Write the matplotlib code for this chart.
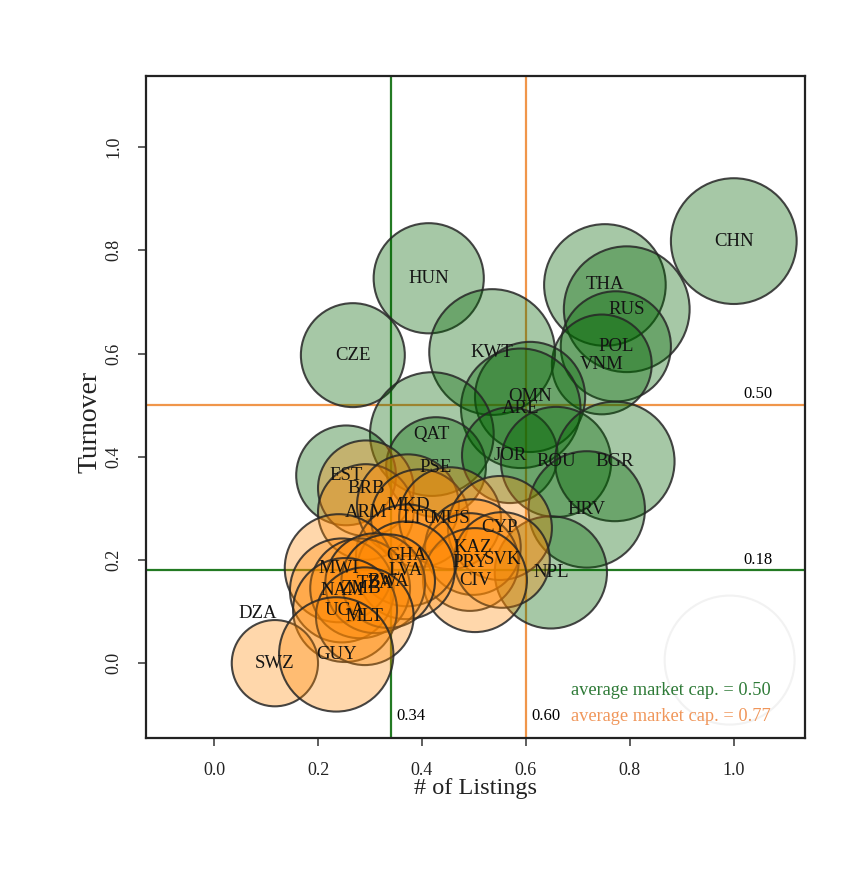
import matplotlib
matplotlib.use("Agg")
import matplotlib.pyplot as plt
from matplotlib.patches import Circle
import numpy as np

plt.rcParams['font.family'] = ['Liberation Serif', 'DejaVu Serif']

# Group 1 (green): listings, turnover, bubble radius (market cap, x-axis units)
g_codes = ["CHN", "HUN", "THA", "RUS", "POL", "VNM", "CZE", "KWT", "OMN",
           "ARE", "QAT", "PSE", "JOR", "ROU", "BGR", "HRV", "NPL", "EST"]
g_listings = [1.000, 0.413, 0.752, 0.794, 0.773, 0.746, 0.267, 0.535, 0.608,
              0.590, 0.419, 0.427, 0.569, 0.658, 0.771, 0.717, 0.648, 0.254]
g_turnover = [0.818, 0.746, 0.733, 0.686, 0.614, 0.579, 0.597, 0.603, 0.516,
              0.494, 0.444, 0.380, 0.403, 0.390, 0.391, 0.298, 0.176, 0.364]
g_mcap = [0.121, 0.106, 0.117, 0.121, 0.106, 0.096, 0.100, 0.121, 0.106,
          0.115, 0.119, 0.096, 0.092, 0.106, 0.115, 0.112, 0.108, 0.096]

# Group 2 (orange)
o_codes = ["BRB", "ARM", "MKD", "LTU", "MUS", "CYP", "KAZ", "PRY", "SVK",
           "CIV", "GHA", "LVA", "MWI", "NAM", "ZMB", "TZA", "BWA", "UGA",
           "MLT", "DZA", "SWZ", "GUY"]
o_listings = [0.292, 0.292, 0.373, 0.396, 0.454, 0.550, 0.498, 0.492, 0.554,
              0.502, 0.371, 0.369, 0.240, 0.246, 0.281, 0.310, 0.335, 0.252,
              0.290, 0.083, 0.117, 0.235]
o_turnover = [0.339, 0.293, 0.306, 0.281, 0.281, 0.262, 0.225, 0.196, 0.200,
              0.161, 0.209, 0.180, 0.184, 0.141, 0.145, 0.155, 0.159, 0.103,
              0.091, 0.097, 0.000, 0.017]
o_mcap = [0.092, 0.092, 0.098, 0.094, 0.098, 0.100, 0.092, 0.094, 0.092,
          0.100, 0.098, 0.094, 0.104, 0.100, 0.096, 0.096, 0.090, 0.100,
          0.094, 0.000, 0.083, 0.110]

# Group averages
g_avg_listings, g_avg_turnover, g_avg_mcap = 0.34, 0.18, 0.50
o_avg_listings, o_avg_turnover, o_avg_mcap = 0.60, 0.50, 0.77

GREEN = (0 / 255, 100 / 255, 0 / 255)
ORANGE = (255 / 255, 135 / 255, 0 / 255)
GREEN_LINE = "#237a23"
ORANGE_LINE = "#f0964a"
GREEN_TEXT = "#2e7a37"
ORANGE_TEXT = "#f0965a"

fig = plt.figure(figsize=(8.59, 8.71), dpi=100)
ax = fig.add_axes([146 / 859, 133 / 871, 659 / 859, 662 / 871])
ax.set_xlim(-0.131, 1.137)
ax.set_ylim(-0.145, 1.138)

# reference lines for each group's averages
ax.axvline(g_avg_listings, color=GREEN_LINE, lw=1.6, zorder=1)
ax.axhline(g_avg_turnover, color=GREEN_LINE, lw=1.6, zorder=1)
ax.axvline(o_avg_listings, color=ORANGE_LINE, lw=1.6, zorder=1)
ax.axhline(o_avg_turnover, color=ORANGE_LINE, lw=1.6, zorder=1)

fig.canvas.draw()
px_per_unit = ax.transData.transform((1, 0))[0] - ax.transData.transform((0, 0))[0]


def sizes(radii):
    r_pt = np.asarray(radii) * px_per_unit * 72 / fig.dpi
    return (2 * r_pt) ** 2


edge = (0.15, 0.15, 0.15, 0.85)
ax.scatter(g_listings, g_turnover, s=sizes(g_mcap), marker="o",
           facecolor=GREEN + (0.35,), edgecolor=edge, linewidth=1.5, zorder=2)
ax.scatter(o_listings, o_turnover, s=sizes(o_mcap), marker="o",
           facecolor=ORANGE + (0.33,), edgecolor=edge, linewidth=1.5, zorder=3)

for code, x, y in zip(g_codes + o_codes, g_listings + o_listings,
                      g_turnover + o_turnover):
    ax.text(x, y, code, ha="center", va="center", fontsize=13.5,
            color="#141414", zorder=5)

# faint ring in the lower-right corner
ax.add_patch(Circle((0.992, 0.006), 0.125, fill=False, edgecolor="#f2f2f2",
                    lw=1.5, zorder=0))

# value labels for the average lines
ax.annotate(f"{o_avg_turnover:.2f}", (1.046, o_avg_turnover), xytext=(0, 2),
            textcoords="offset points", ha="center", va="bottom", fontsize=12)
ax.annotate(f"{g_avg_turnover:.2f}", (1.046, g_avg_turnover), xytext=(0, 2),
            textcoords="offset points", ha="center", va="bottom", fontsize=12)
ax.annotate(f"{g_avg_listings:.2f}", (g_avg_listings, -0.103), xytext=(4, 0),
            textcoords="offset points", ha="left", va="center", fontsize=12)
ax.annotate(f"{o_avg_listings:.2f}", (o_avg_listings, -0.103), xytext=(4, 0),
            textcoords="offset points", ha="left", va="center", fontsize=12)

ax.text(1.071, -0.052, f"average market cap. = {g_avg_mcap:.2f}", ha="right",
        va="center", fontsize=13.2, color=GREEN_TEXT)
ax.text(1.071, -0.103, f"average market cap. = {o_avg_mcap:.2f}", ha="right",
        va="center", fontsize=13.2, color=ORANGE_TEXT)

ticks = [0.0, 0.2, 0.4, 0.6, 0.8, 1.0]
ax.set_xticks(ticks)
ax.set_yticks(ticks)
ax.set_xticklabels([f"{t:.1f}" for t in ticks])
ax.set_yticklabels([f"{t:.1f}" for t in ticks], rotation=90, va="center")
ax.tick_params(axis="both", direction="out", length=6, width=1.1,
               labelsize=13, color="#333333", labelcolor="#222222", pad=11)

ax.set_xlabel("# of Listings", fontsize=17.5, color="#222222")
ax.xaxis.set_label_coords(0.5, -0.061)
ax.set_ylabel("Turnover", fontsize=20, color="#222222")
ax.yaxis.set_label_coords(-0.066, 0.477)

for sp in ax.spines.values():
    sp.set_linewidth(1.6)
    sp.set_color("#222222")

fig.savefig("out.png", dpi=100)
